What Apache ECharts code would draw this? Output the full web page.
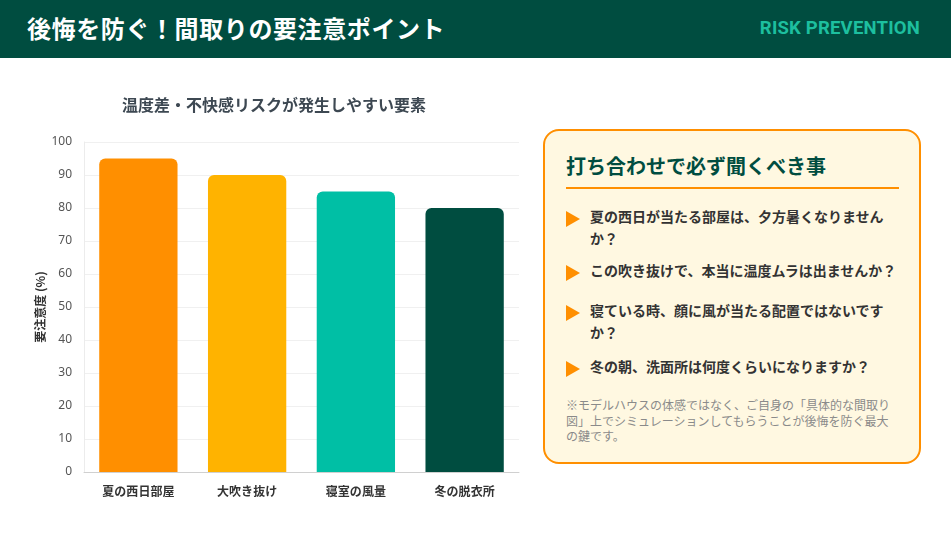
<!DOCTYPE html>
<html><head><meta charset="utf-8">
<script src="https://cdn.jsdelivr.net/npm/echarts@6/dist/echarts.min.js"></script>
<style>
html,body{margin:0;padding:0;background:#fff;font-family:"Noto Sans CJK JP","Noto Sans",sans-serif;}
#wrap{position:relative;width:951px;height:533px;overflow:hidden;background:#fff;}
#hdr{position:absolute;left:0;top:0;width:951px;height:58px;background:#004d40;}
#hdr .t{position:absolute;left:27px;top:0;line-height:56px;font-size:24px;font-weight:700;color:#fff;letter-spacing:0.6px;}
#hdr .r{position:absolute;right:31px;top:0;line-height:56px;font-size:18.5px;font-weight:700;color:#1dbf9f;font-family:"Roboto","Noto Sans",sans-serif;letter-spacing:0.2px;}
#chart{position:absolute;left:0;top:58px;width:545px;height:475px;}
#panel{position:absolute;left:543px;top:129px;width:374px;height:331px;border:2px solid #ff8f00;border-radius:16px;background:#fff8e1;}
.h{position:absolute;left:21px;top:20px;font-size:20px;font-weight:700;color:#004d40;line-height:30px;white-space:nowrap;}
.ul{position:absolute;left:21px;top:56px;width:333px;height:2px;background:#ff8f00;}
.it{position:absolute;left:21px;width:340px;font-size:14px;font-weight:700;color:#333;line-height:22px;}
.it .tri{position:absolute;left:0;top:6px;width:0;height:0;border-top:8px solid transparent;border-bottom:8px solid transparent;border-left:14px solid #ff8f00;}
.it .tx{position:absolute;left:24px;top:0;white-space:nowrap;}
.note{position:absolute;left:21px;top:266px;font-size:12px;color:#8a8a8a;line-height:15.5px;white-space:nowrap;}
</style></head>
<body><div id="wrap">
<div id="hdr"><div class="t">後悔を防ぐ！間取りの要注意ポイント</div><div class="r">RISK PREVENTION</div></div>
<div id="chart"></div>
<div id="panel">
<div class="h">打ち合わせで必ず聞くべき事</div>
<div class="ul"></div>
<div class="it" style="top:74px"><div class="tri"></div><div class="tx">夏の西日が当たる部屋は、夕方暑くなりません<br>か？</div></div>
<div class="it" style="top:128px"><div class="tri"></div><div class="tx">この吹き抜けで、本当に温度ムラは出ませんか？</div></div>
<div class="it" style="top:168px"><div class="tri"></div><div class="tx">寝ている時、顔に風が当たる配置ではないです<br>か？</div></div>
<div class="it" style="top:224px"><div class="tri"></div><div class="tx">冬の朝、洗面所は何度くらいになりますか？</div></div>
<div class="note">※モデルハウスの体感ではなく、ご自身の「具体的な間取り<br>図」上でシミュレーションしてもらうことが後悔を防ぐ最大<br>の鍵です。</div>
</div>
</div>
<script>
const categories = ["夏の西日部屋", "大吹き抜け", "寝室の風量", "冬の脱衣所"];
const values = [95, 90, 85, 80];
const barColors = ["#ff8f00", "#ffb300", "#00bfa5", "#004d40"];
const chartTitle = "温度差・不快感リスクが発生しやすい要素";
const yAxisName = "要注意度 (%)";

const chart = echarts.init(document.getElementById('chart'), null, {renderer: 'canvas'});
chart.setOption({
  animation: false,
  title: {
    text: chartTitle, left: 269, top: 34, textAlign: 'center',
    textStyle: {fontSize: 16, fontWeight: 'bold', color: '#3d4852', fontFamily: 'Noto Sans CJK JP'}
  },
  grid: {left: 84, right: 26, top: 84, bottom: 61},
  xAxis: {
    type: 'category', data: categories,
    axisLine: {lineStyle: {color: '#d0d0d0'}},
    axisTick: {show: false},
    axisLabel: {fontSize: 12, fontWeight: 'bold', color: '#333', margin: 13, fontFamily: 'Noto Sans CJK JP'}
  },
  yAxis: {
    type: 'value', min: 0, max: 100, interval: 10,
    name: yAxisName, nameLocation: 'middle', nameGap: 38, nameRotate: 90,
    nameMoveOverlap: false,
    nameTextStyle: {fontSize: 12, fontWeight: 'bold', color: '#333', fontFamily: 'Noto Sans CJK JP'},
    axisLine: {show: true, lineStyle: {color: '#ececec'}},
    axisTick: {show: false},
    axisLabel: {fontSize: 12, color: '#555', margin: 12, fontFamily: 'Noto Sans'},
    splitLine: {lineStyle: {color: '#f0f0f0'}}
  },
  series: [{
    type: 'bar', barWidth: '72%',
    data: values.map((v, i) => ({value: v, itemStyle: {color: barColors[i]}})),
    itemStyle: {borderRadius: [6, 6, 0, 0]}
  }]
});
</script>
</body></html>
